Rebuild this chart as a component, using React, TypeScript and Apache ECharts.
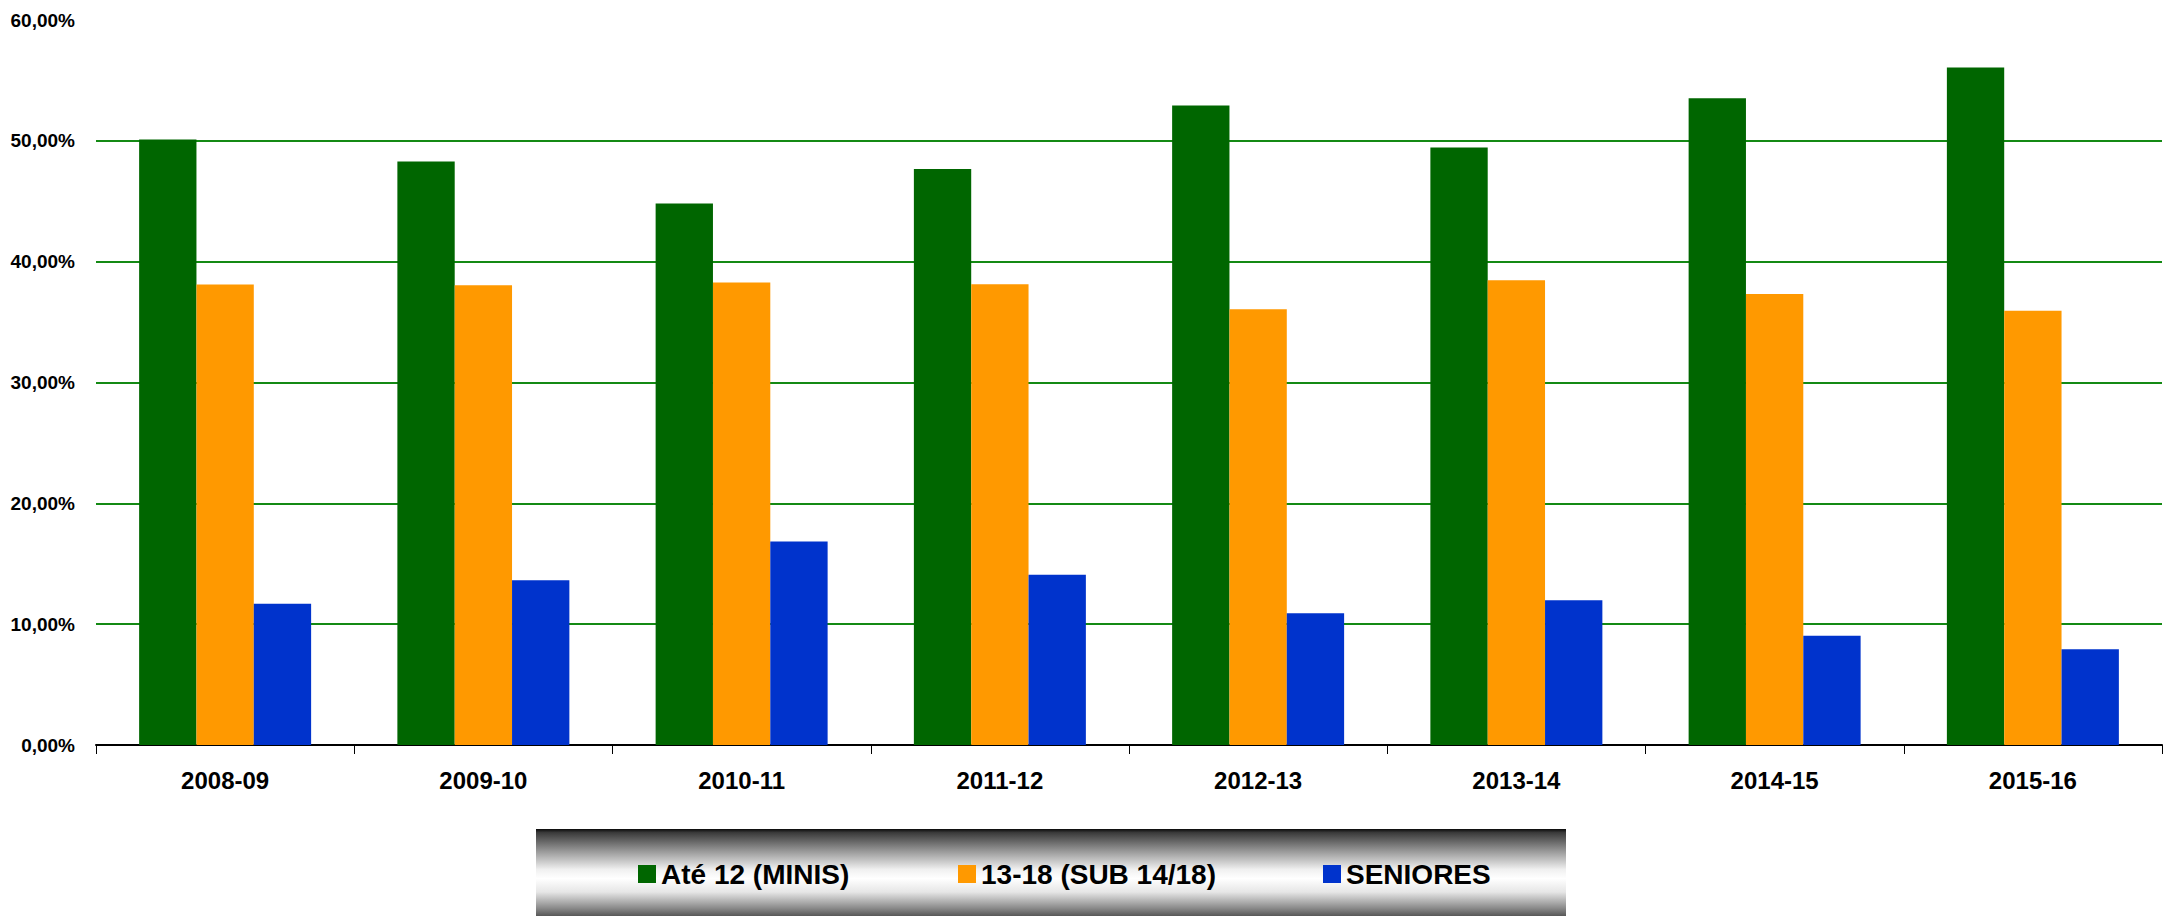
import React, { useEffect, useRef } from "react";
import * as echarts from "echarts";

const categories = ["2008-09", "2009-10", "2010-11", "2011-12", "2012-13", "2013-14", "2014-15", "2015-16"];
const seriesNames = ["Até 12 (MINIS)", "13-18 (SUB 14/18)", "SENIORES"];
const minis = [50.12, 48.3, 44.82, 47.66, 52.93, 49.45, 53.53, 56.07];
const sub1418 = [38.12, 38.04, 38.28, 38.14, 36.07, 38.47, 37.32, 35.93];
const seniores = [11.69, 13.63, 16.85, 14.09, 10.9, 11.97, 9.05, 7.92];
const colors = ["#006600", "#FF9900", "#0033CC"];

const FONT = "'Liberation Sans', Arial, sans-serif";

export default function App() {
  const ref = useRef<HTMLDivElement>(null);
  useEffect(() => {
    if (!ref.current) return;
    const chart = echarts.init(ref.current, null, { renderer: "svg" });
    const data = [minis, sub1418, seniores];
    const legendLefts = [638, 958, 1323];
    chart.setOption({
      animation: false,
      backgroundColor: "#ffffff",
      grid: { left: 96, right: 2, top: 20, bottom: 171, containLabel: false },
      xAxis: {
        type: "category",
        data: categories,
        axisLine: { show: true, lineStyle: { color: "#000", width: 2 } },
        axisTick: { show: true, length: 9, lineStyle: { color: "#000", width: 1 } },
        axisLabel: { color: "#000", fontFamily: FONT, fontSize: 24, fontWeight: "bold", margin: 23 },
      },
      yAxis: {
        type: "value",
        min: 0,
        max: 60,
        interval: 10,
        axisLine: { show: false },
        axisTick: { show: false },
        axisLabel: {
          color: "#000",
          fontFamily: FONT,
          fontSize: 19,
          fontWeight: "bold",
          margin: 21,
          formatter: (v: number) => v.toFixed(2).replace(".", ",") + "%",
        },
        splitLine: { show: true, showMaxLine: false, lineStyle: { color: "#148a14", width: 2 } },
      },
      legend: seriesNames.map((n, i) => ({
        data: [n],
        left: legendLefts[i],
        top: 859,
        padding: 0,
        itemWidth: 18,
        itemHeight: 18,
        itemTextGap: 10,
        icon: "rect",
        selectedMode: false,
        textStyle: { color: "#000", fontFamily: FONT, fontSize: 28, fontWeight: "bold", lineHeight: 30 },
      })),
      graphic: [
        {
          type: "rect",
          left: 536,
          top: 829,
          z: 0,
          shape: { width: 1030, height: 90 },
          style: {
            fill: new echarts.graphic.LinearGradient(0, 0, 0, 1, [
              { offset: 0, color: "#0a0a0a" },
              { offset: 0.04, color: "#3a3a3a" },
              { offset: 0.25, color: "#9a9a9a" },
              { offset: 0.45, color: "#f0f0f0" },
              { offset: 0.55, color: "#ffffff" },
              { offset: 0.7, color: "#e6e6e6" },
              { offset: 0.88, color: "#8a8a8a" },
              { offset: 1, color: "#444444" },
            ]),
          },
        },
      ],
      series: seriesNames.map((n, i) => ({
        name: n,
        type: "bar",
        data: data[i],
        barGap: "0%",
        barCategoryGap: "33.4%",
        itemStyle: { color: colors[i] },
      })),
    });
    return () => chart.dispose();
  }, []);
  return <div ref={ref} style={{ position: "absolute", left: 0, top: 0, width: 2164, height: 916 }} />;
}
